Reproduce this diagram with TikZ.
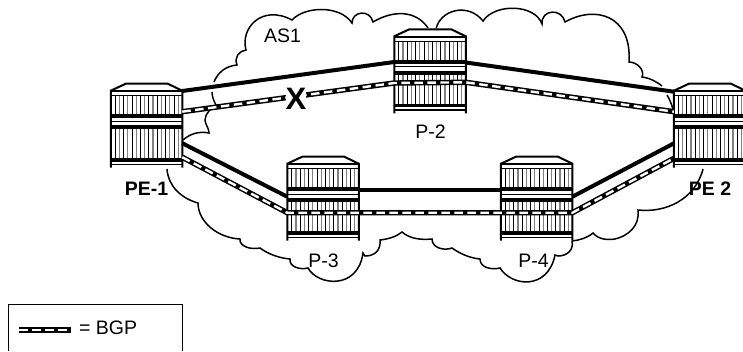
\documentclass[tikz,border=0pt]{standalone}
\usepackage{fontspec}
\setmainfont{Liberation Sans}
\usetikzlibrary{calc}
\tikzset{
  routerbox/.style={inner sep=0pt,outer sep=0pt,minimum width=71.5pt,minimum height=85pt},
  label/.style={inner sep=0pt,anchor=base,font=\fontsize{19.5}{20}\selectfont},
  boldlabel/.style={label,font=\fontsize{19.5}{20}\selectfont\bfseries},
  cloudline/.style={line width=1.5pt,line join=miter},
  solidlink/.style={line width=4pt},
  bgp/.style={line width=5.4pt,line join=bevel,postaction={draw,white,line width=2.4pt,dash pattern=on 8.5pt off 4.5pt}},
}
\newcommand{\routerart}[1]{%
  \begin{scope}[shift={(#1.north west)}]
    \fill[white] (0,8) -- (15,0) -- (57,0) -- (71.5,8) -- (71.5,85) -- (0,85) -- cycle;
    \foreach \i in {0,2,...,14} {
      \draw[black,line width=.9pt] ({4.5+\i*4.2},13) -- ++(0,18.5);
      \draw[black,line width=.9pt] ({4.5+\i*4.2},46) -- ++(0,29.5);
      \draw[black!50,line width=1.2pt] ({8.7+\i*4.2},13) -- ++(0,18.5);
      \draw[black!50,line width=1.2pt] ({8.7+\i*4.2},46) -- ++(0,29.5);
    }
    \draw[line width=2pt,line join=miter] (0,85) -- (0,8) -- (15,1) -- (57,1) -- (71.5,8) -- (71.5,85);
    \draw[line width=1.6pt] (0,8.5) -- (71.5,8.5);
    \draw[line width=1.3pt] (0,13) -- (71.5,13);
    \draw[line width=3.8pt] (0,33.4) -- (71.5,33.4);
    \draw[line width=1.1pt] (0,38.5) -- (71.5,38.5);
    \draw[line width=3.8pt] (0,44.3) -- (71.5,44.3);
    \draw[line width=3.8pt] (0,77.2) -- (71.5,77.2);
    \draw[line width=1.7pt] (0,81.8) -- (71.5,81.8);
  \end{scope}%
}
\begin{document}
\begin{tikzpicture}[x=1pt,y=-1pt]
\useasboundingbox (0,0) rectangle (743,351);
\clip (0,0) rectangle (743,351);
% cloud
\draw[cloudline]
  (214,82) .. controls (218,72) and (226,66) .. (237,65)
  .. controls (234,57) and (239,51) .. (246,50)
  .. controls (240,28) and (262,4) .. (292,20)
  .. controls (305,6) and (340,5) .. (352,23)
  .. controls (352,11) and (370,9) .. (373,22)
  .. controls (393,10) and (416,10) .. (428,28)
  (436,29) .. controls (440,10) and (468,2) .. (483,21)
  .. controls (495,3) and (535,4) .. (542,24)
  .. controls (541,9) and (562,8) .. (565,22)
  .. controls (595,5) and (632,15) .. (629,62)
  .. controls (637,62) and (645,70) .. (642,77)
  .. controls (650,78) and (657,82) .. (662,86)
  (667,95) .. controls (670,100) and (672,105) .. (673,110)
  (212,92) .. controls (212,97) and (214,101) .. (216,105)
  .. controls (212,108) and (205,113) .. (205,120)
  .. controls (205,124) and (209,128) .. (209,133)
  .. controls (198,131) and (190,134) .. (183,140)
  (167,169) .. controls (168,185) and (180,198) .. (198,203)
  .. controls (198,222) and (218,238) .. (240,239)
  .. controls (239,246) and (250,250) .. (260,248)
  .. controls (268,254) and (279,258) .. (290,259)
  .. controls (289,267) and (300,270) .. (308,268)
  .. controls (318,286) and (358,290) .. (363,253)
  -- (365,256)
  .. controls (375,256) and (381,250) .. (380,240)
  .. controls (388,239) and (396,237) .. (402,232)
  .. controls (410,239) and (421,240) .. (432,239)
  .. controls (432,248) and (444,251) .. (452,248)
  .. controls (459,253) and (469,258) .. (480,259)
  .. controls (480,268) and (492,270) .. (500,268)
  .. controls (512,287) and (548,290) .. (555,255)
  -- (558,256)
  .. controls (567,256) and (574,250) .. (572,241)
  .. controls (580,240) and (587,238) .. (593,233)
  .. controls (599,240) and (608,240) .. (615,239)
  .. controls (628,236) and (640,226) .. (638,210)
  .. controls (665,213) and (695,200) .. (703,169);
% routers
\node[routerbox] (pe1) at (146.5,125.2) {};
\node[routerbox] (p2) at (430,70.8) {};
\node[routerbox] (p3) at (323,198.2) {};
\node[routerbox] (p4) at (536.7,198.2) {};
\node[routerbox] (pe2) at (709.7,125.2) {};
\routerart{pe1}\routerart{p2}\routerart{p3}\routerart{p4}\routerart{pe2}
% solid links
\draw[solidlink] ($(pe1.north east)+(0,8.3)$) -- ($(p2.north west)+(0,33.7)$);
\draw[solidlink] ($(p2.north east)+(0,34.2)$) -- ($(pe2.north west)+(0,9)$);
\draw[solidlink] ($(pe1.north east)+(0,60.5)$) -- ($(p3.north west)+(0,41)$);
\draw[solidlink] ($(p3.north east)+(0,34.3)$) -- ($(p4.north west)+(0,34.3)$);
\draw[solidlink] ($(p4.north east)+(0,41)$) -- ($(pe2.north west)+(0,60.6)$);
% BGP links
\draw[bgp] ($(pe1.north east)+(0,29)$) -- ($(p2.north west)+(0,54.7)$) -- ($(p2.north east)+(0,54)$) -- ($(pe2.north west)+(0,29)$);
\draw[bgp] ($(pe1.north east)+(0,74.5)$) -- ($(p3.north west)+(0,57)$) -- ($(p3.north east)+(0,57)$) -- ($(p4.north west)+(0,57)$) -- ($(p4.north east)+(0,57)$) -- ($(pe2.north west)+(0,75.6)$);
% failure mark
\node[inner sep=0pt,fill=white,anchor=base,font=\fontsize{31}{31}\selectfont\bfseries] (fail) at (296,109) {X};
% labels
\node[boldlabel] (lpe1) at (146.5,195) {PE-1};
\node[boldlabel] (lpe2) at (710,195) {PE 2};
\node[label] (lp2) at (430.5,138) {P-2};
\node[label] (lp3) at (323.5,267) {P-3};
\node[label] (lp4) at (533.5,267) {P-4};
\node[label] (las) at (282.5,42) {AS1};
% legend
\coordinate (boxa) at (8,351);
\coordinate (boxb) at (182,351);
\draw[line width=1pt] (boxa) -- (8,304) -- (182,304) -- (boxb);
\coordinate (lega) at (19,330);
\coordinate (legb) at (71,330);
\draw[bgp] (lega) -- (legb);
\node[label,anchor=base west] (legt) at (79,334) {= BGP};
\end{tikzpicture}
\end{document}
